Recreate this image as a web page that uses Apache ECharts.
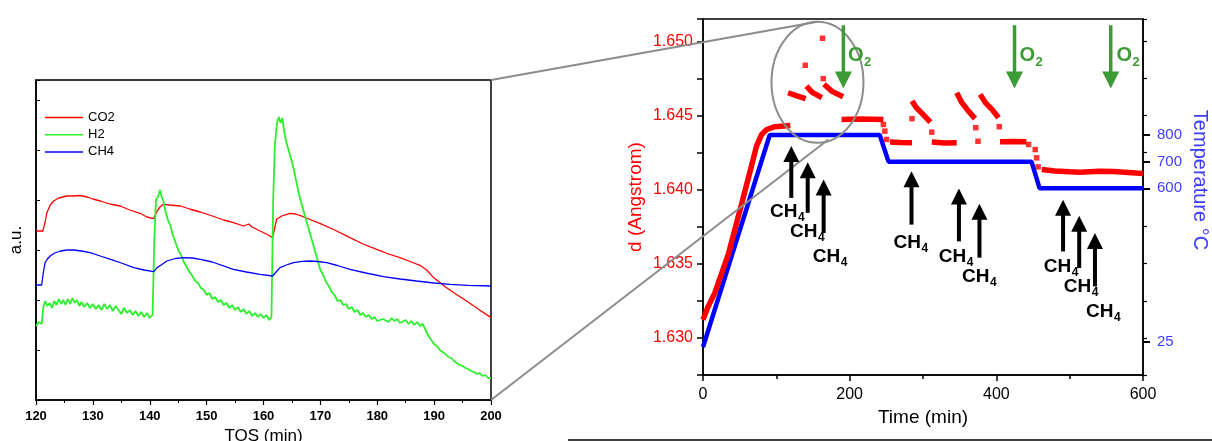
<!DOCTYPE html>
<html>
<head>
<meta charset="utf-8">
<script src="https://cdn.jsdelivr.net/npm/echarts@6/dist/echarts.min.js"></script>
<style>
html,body{margin:0;padding:0;background:#fff;}
#main{width:1212px;height:441px;}
</style>
</head>
<body>
<div id="main"></div>
<script>
// ---- left panel: TOS (min) vs a.u. ----
var co2Data = [[120,169],[121.2,169],[121.6,178],[121.9,187],[122.5,195],[123.1,199],[124,202],[125.4,204],[126.5,204],[127.8,204.5],[129,203],[130,201],[131.3,199],[133,196],[134.8,194],[136.5,190],[138.3,186.7],[139.5,183],[140.7,181.4],[141.3,189],[141.8,193],[142.4,195.7],[143.5,195],[145.4,194],[147,191],[148.9,188],[151,184],[153,180],[154.7,177.4],[156.5,174],[157.4,176],[158,173],[159.4,169],[160.5,166],[161.6,162.4],[162.3,180.7],[163.2,184],[164.7,186.7],[165.6,186],[166.4,184.7],[168,181],[170,176.4],[172.5,170],[175.2,162.4],[177.5,156],[179.9,150.7],[182,146],[184,142.4],[186,138],[187.5,134.7],[188.7,130],[189.9,122.4],[192,113],[193.8,106],[195.7,99],[198,90],[200,82.4]];

var h2Data = [[120,74],[120.5,78],[121,76],[121.3,93],[121.6,99],[122,94],[122.4,97],[122.8,92],[123.2,99],[123.6,95],[124,101],[124.4,96],[124.8,100],[125.2,95],[125.6,101],[126,96],[126.4,102],[126.8,97],[127.2,100],[127.6,94],[128,98],[128.5,93],[129,97],[129.5,92],[130,96],[130.5,91],[131,95],[131.5,90],[132,96],[132.5,91],[133,95],[133.5,89],[134,94],[134.5,90],[135,86],[135.5,92],[136,87],[136.5,90],[137,85],[137.5,89],[138,84],[138.5,88],[139,83],[139.5,87],[140,82],[140.5,85],[140.8,160],[141.1,200],[141.5,204],[141.8,210],[142.1,203],[142.4,199],[142.8,188],[143.2,180],[143.6,175],[144,166],[144.5,158],[145,150],[145.5,145],[146,138],[146.5,133],[147,128],[147.5,124],[148,119],[148.5,117],[149,112],[149.5,110],[150,105],[150.5,107],[151,101],[151.5,103],[152,98],[152.5,100],[153,95],[153.5,97],[154,92],[154.5,95],[155,90],[155.5,93],[156,88],[156.5,91],[157,86],[157.5,89],[158,84],[158.5,87],[159,83],[159.5,86],[160,82],[160.5,85],[161,80],[161.4,83],[161.7,200],[162,255],[162.4,278],[162.7,283],[163,277],[163.3,282],[163.6,270],[164,258],[164.5,248],[165,238],[165.5,226],[166,212],[166.5,200],[167,190],[167.5,180],[168,170],[168.5,160],[169,150],[169.5,140],[170,130],[170.5,125],[171,118],[171.5,114],[172,108],[172.5,105],[173,99],[173.5,100],[174,95],[174.5,96],[175,91],[175.5,93],[176,88],[176.5,90],[177,85],[177.5,87],[178,83],[178.5,85],[179,81],[179.5,83],[180,79],[181,81],[182,78],[182.5,82],[183,79],[183.5,81],[184,77],[185,80],[185.5,76],[186,79],[186.5,75],[187,78],[187.5,74],[188,76],[188.5,70],[189,64],[189.5,60],[190,56],[190.5,54],[191,50],[191.5,48],[192,46],[192.5,43],[193,42],[193.5,39],[194,37],[194.5,35],[195,34],[195.5,32],[196,31],[196.5,29],[197,28],[197.5,26],[198,27],[198.5,24],[199,25],[199.5,22],[200,22]];

var ch4Data = [[120,115],[121,115],[121.3,128],[121.6,137.4],[122,141],[122.5,144],[123.3,147],[124.3,149],[125.5,150],[126.6,150],[128,149],[129.5,147.4],[131.3,144],[133.1,140.7],[135,137],[137.2,132.4],[139,130],[140.7,128.4],[141.3,132.4],[142,135],[143,139],[144.5,141.5],[146,142.4],[147.5,142],[148.9,140.7],[151,138],[154.7,130.7],[157,128],[159.4,125.7],[161.6,124],[162.2,128],[162.9,132.4],[164,135],[165.3,137.4],[166.8,138.6],[168.2,139],[169.5,138.5],[171.1,137.4],[173,134.5],[175.2,130.7],[178,127],[181.1,123.4],[184,121],[186.9,119],[190,117],[192.8,115.7],[196,114.7],[200,114]];

// ---- right panel: Time (min) vs d (Angstrom) and Temperature ----
var tempTime  = [0, 91, 241, 253, 448, 459, 600];
var tempValue = [5, 800, 800, 700, 700, 600, 600];
var tempTicks = [25, 600, 700, 800];

var dRamp    = [[0,1.63122],[7,1.63211],[16,1.63302],[35,1.63572],[53,1.63910],[66,1.64157],[73,1.64293],[80,1.64372],[87,1.64405],[98,1.64424],[119,1.64432]];
var dJump1   = [[116,1.64653],[128,1.64632],[140,1.64613]];
var dJump2   = [[141,1.64698],[149,1.64655],[162,1.64620]];
var dJump3   = [[165,1.64710],[176,1.64662],[191,1.64626]];
var dHold800 = [[189,1.64473],[215,1.64476],[246,1.64473]];
var dHold700a = [[255,1.64320],[269,1.64318],[285,1.64316]];
var dJump4   = [[285,1.64597],[291,1.64552],[300,1.64507],[310,1.64455]];
var dHold700b = [[312,1.64320],[330,1.64314],[346,1.64316]];
var dJump5   = [[346,1.64653],[353,1.64586],[362,1.64529],[371,1.64478]];
var dJump6   = [[378,1.64642],[385,1.64586],[394,1.64541],[403,1.64484]];
var dHold700c = [[405,1.64322],[425,1.64324],[441,1.64322]];
var dHold600 = [[462,1.64135],[480,1.64125],[500,1.64120],[514,1.64117],[540,1.64124],[560,1.64122],[580,1.64115],[600,1.64108]];
var dSingle  = [[139.5,1.64838],[163,1.65020],[164,1.64748],[246,1.64439],[248,1.64394],[250.5,1.64338],[285,1.64478],[312,1.64387],[372,1.64417],[375,1.64326],[404,1.64424],[444,1.64304],[453,1.64270],[455,1.64214],[457,1.64153]];

// annotations (data coordinates of the right panel)
var ch4Time   = [120.4, 142.8, 164.5, 284.3, 349, 377, 491, 513, 534.5];
var ch4Tip    = [1.64293, 1.64185, 1.64068, 1.64124, 1.64007, 1.63905, 1.63932, 1.63824, 1.63707];
var ch4Base   = [1.63944, 1.63843, 1.63707, 1.63764, 1.63651, 1.63541, 1.63583, 1.63471, 1.63347];
var ch4LabelT = [91.4, 118.6, 149.6, 259.8, 321.5, 353.2, 464.7, 491.9, 522.3];
var ch4LabelD = [1.63853, 1.63718, 1.63549, 1.63640, 1.63549, 1.63414, 1.63482, 1.63347, 1.63178];
var o2Time    = [191.4, 424.8, 556];
var o2Top     = 1.65108;
var o2Tip     = 1.64682;
var o2LabelT  = [197.7, 431.7, 563.7];
var o2LabelD  = 1.64901;
var zoomCenter = [156.1, 1.64723];
var zoomLow    = [170.9, 1.64338];

var FONT = 'Liberation Sans, Arial, sans-serif';
var GREEN = '#3d9b35';

var dSeriesData = [];
[dRamp, dJump1, dJump2, dJump3, dHold800, dHold700a, dJump4, dHold700b, dJump5, dJump6, dHold700c, dHold600].forEach(function (seg) {
    seg.forEach(function (p) { dSeriesData.push(p); });
    dSeriesData.push(['-', '-']);
});

var tempData = tempTime.map(function (t, i) { return [t, tempValue[i]]; });

var myChart = echarts.init(document.getElementById('main'));

var option = {
    animation: false,
    backgroundColor: '#fff',
    textStyle: { fontFamily: FONT },
    grid: [
        { left: 36, top: 80, width: 455, height: 320, show: true, borderColor: '#000', borderWidth: 1.5, outerBoundsMode: 'none', containLabel: false },
        { left: 703, top: 19, width: 440, height: 356, show: true, borderColor: '#000', borderWidth: 1.5, outerBoundsMode: 'none', containLabel: false }
    ],
    legend: {
        data: ['CO2', 'H2', 'CH4'],
        orient: 'vertical',
        left: 45,
        top: 111,
        padding: 0,
        icon: 'rect',
        itemWidth: 38,
        itemHeight: 1.5,
        itemGap: 4.2,
        textStyle: { fontSize: 13, color: '#000', fontFamily: FONT }
    },
    xAxis: [
        {
            gridIndex: 0, type: 'value', min: 120, max: 200, interval: 10,
            name: 'TOS (min)', nameLocation: 'middle', nameGap: 23,
            nameTextStyle: { fontSize: 17, color: '#000' },
            axisLine: { onZero: false, lineStyle: { color: '#000', width: 1.5 } },
            axisTick: { inside: false, length: 5, lineStyle: { color: '#000', width: 1.2 } },
            minorTick: { show: true, splitNumber: 2, length: 3, lineStyle: { color: '#000' } },
            axisLabel: { fontSize: 13, fontWeight: 'bold', color: '#000', margin: 10 },
            splitLine: { show: false }
        },
        {
            gridIndex: 1, type: 'value', min: 0, max: 600, interval: 200,
            name: 'Time (min)', nameLocation: 'middle', nameGap: 32,
            nameTextStyle: { fontSize: 19, color: '#000' },
            axisLine: { onZero: false, lineStyle: { color: '#000', width: 1.5 } },
            axisTick: { inside: false, length: 6, lineStyle: { color: '#000', width: 1.5 } },
            minorTick: { show: true, splitNumber: 2, length: 4, lineStyle: { color: '#000', width: 1.5 } },
            axisLabel: { fontSize: 16, color: '#000', margin: 12 },
            splitLine: { show: false }
        }
    ],
    yAxis: [
        {
            gridIndex: 0, type: 'value', min: 0, max: 320, interval: 50,
            name: 'a.u.', nameLocation: 'middle', nameGap: 11, nameRotate: 90,
            nameTextStyle: { fontSize: 17, color: '#000' },
            axisLine: { onZero: false, lineStyle: { color: '#000', width: 1.5 } },
            axisTick: { inside: true, length: 4, lineStyle: { color: '#000' } },
            axisLabel: { show: false },
            splitLine: { show: false }
        },
        {
            gridIndex: 1, type: 'value', position: 'left', min: 1.6275, max: 1.6515, interval: 0.0025,
            name: 'd (Angstrom)', nameLocation: 'middle', nameGap: 58, nameRotate: 90,
            nameTextStyle: { fontSize: 19, color: '#ff0000' },
            axisLine: { onZero: false, lineStyle: { color: '#000', width: 1.5 } },
            axisTick: { inside: false, length: 6, lineStyle: { color: '#000', width: 1.5 } },
            axisLabel: {
                fontSize: 16, color: '#ff0000', margin: 10,
                formatter: function (v) {
                    var k = Math.round(v * 1000);
                    return (k % 5 === 0 && Math.abs(v * 1000 - k) < 1e-6) ? v.toFixed(3) : '';
                }
            },
            splitLine: { show: false }
        },
        {
            gridIndex: 1, type: 'value', position: 'right', min: -100, max: 1235,
            name: 'Temperature \u00B0C', nameLocation: 'middle', nameGap: 47, nameRotate: -90,
            nameTextStyle: { fontSize: 20, color: '#3c3cff', padding: [0, 34, 0, 0] },
            axisLine: { show: true, onZero: false, lineStyle: { color: '#000', width: 1.5 } },
            axisTick: { inside: false, length: 7, customValues: tempTicks, lineStyle: { color: '#000', width: 2 } },
            axisLabel: { fontSize: 15, color: '#3c3cff', margin: 14, customValues: tempTicks },
            splitLine: { show: false }
        },
        {
            gridIndex: 1, type: 'value', position: 'right', min: 1.6275, max: 1.6515, interval: 0.0025,
            axisLine: { show: false, onZero: false },
            axisTick: { inside: false, length: 4, lineStyle: { color: '#000', width: 1.2 } },
            axisLabel: { show: false },
            splitLine: { show: false }
        }
    ],
    series: [
        { name: 'CO2', type: 'line', xAxisIndex: 0, yAxisIndex: 0, data: co2Data, symbol: 'none', color: '#ff0000', lineStyle: { width: 1.3 } },
        { name: 'H2', type: 'line', xAxisIndex: 0, yAxisIndex: 0, data: h2Data, symbol: 'none', color: '#2df02d', lineStyle: { width: 1.8 } },
        { name: 'CH4', type: 'line', xAxisIndex: 0, yAxisIndex: 0, data: ch4Data, symbol: 'none', color: '#0000ff', lineStyle: { width: 1.3 } },
        { name: 'Temperature', type: 'line', xAxisIndex: 1, yAxisIndex: 2, data: tempData, symbol: 'none', color: '#0000ff', lineStyle: { width: 4.5 } },
        { name: 'd', type: 'line', xAxisIndex: 1, yAxisIndex: 1, data: dSeriesData, symbol: 'none', connectNulls: false, color: '#ff0000', lineStyle: { width: 5.5 } },
        { name: 'd points', type: 'scatter', xAxisIndex: 1, yAxisIndex: 1, data: dSingle, symbol: 'rect', symbolSize: 5.5, itemStyle: { color: '#ff0000' } }
    ]
};
myChart.setOption(option);

// annotations placed through the right panel's scales
function px(t, d) { return myChart.convertToPixel({ xAxisIndex: 1, yAxisIndex: 1 }, [t, d]); }
function pxLeft(t, v) { return myChart.convertToPixel({ xAxisIndex: 0, yAxisIndex: 0 }, [t, v]); }

var els = [];
ch4Time.forEach(function (t, i) {
    var tip = px(t, ch4Tip[i]), base = px(t, ch4Base[i]);
    els.push({ type: 'line', z: 20, shape: { x1: base[0], y1: base[1], x2: tip[0], y2: tip[1] + 14 }, style: { stroke: '#000', lineWidth: 4 } });
    els.push({ type: 'polygon', z: 20, shape: { points: [[tip[0], tip[1]], [tip[0] - 8, tip[1] + 16], [tip[0] + 8, tip[1] + 16]] }, style: { fill: '#000' } });
    var lp = px(ch4LabelT[i], ch4LabelD[i]);
    els.push({ type: 'text', z: 21, x: lp[0], y: lp[1], style: { text: 'CH', font: 'bold 19px ' + FONT, fill: '#000', verticalAlign: 'middle' } });
    els.push({ type: 'text', z: 21, x: lp[0] + 28, y: lp[1] + 6, style: { text: '4', font: 'bold 12px ' + FONT, fill: '#000', verticalAlign: 'middle' } });
});
o2Time.forEach(function (t, i) {
    var top = px(t, o2Top), tip = px(t, o2Tip);
    els.push({ type: 'line', z: 20, shape: { x1: top[0], y1: top[1], x2: tip[0], y2: tip[1] - 14 }, style: { stroke: GREEN, lineWidth: 3.5 } });
    els.push({ type: 'polygon', z: 20, shape: { points: [[tip[0], tip[1]], [tip[0] - 8.5, tip[1] - 17], [tip[0] + 8.5, tip[1] - 17]] }, style: { fill: GREEN } });
    var lp = px(o2LabelT[i], o2LabelD);
    els.push({ type: 'text', z: 21, x: lp[0], y: lp[1], style: { text: 'O', font: 'bold 20px ' + FONT, fill: GREEN, verticalAlign: 'middle' } });
    els.push({ type: 'text', z: 21, x: lp[0] + 16, y: lp[1] + 6, style: { text: '2', font: 'bold 13px ' + FONT, fill: GREEN, verticalAlign: 'middle' } });
});

// zoom ellipse and connecting lines
var c = px(zoomCenter[0], zoomCenter[1]);
var rx = 46, ry = 60.5;
els.push({ type: 'ellipse', z: 15, shape: { cx: c[0], cy: c[1], rx: rx, ry: ry }, style: { fill: 'none', stroke: '#8c8c8c', lineWidth: 2 } });
var lt = pxLeft(200, 320), lb = pxLeft(200, 0), low = px(zoomLow[0], zoomLow[1]);
els.push({ type: 'line', z: 15, shape: { x1: lt[0], y1: lt[1], x2: c[0], y2: c[1] - ry }, style: { stroke: '#8c8c8c', lineWidth: 2 } });
els.push({ type: 'line', z: 15, shape: { x1: lb[0], y1: lb[1], x2: low[0], y2: low[1] }, style: { stroke: '#8c8c8c', lineWidth: 2 } });
els.push({ type: 'line', z: 15, shape: { x1: 568, y1: 440, x2: 1212, y2: 440 }, style: { stroke: '#000', lineWidth: 1.5 } });

myChart.setOption({ graphic: { elements: els } });
</script>
</body>
</html>
